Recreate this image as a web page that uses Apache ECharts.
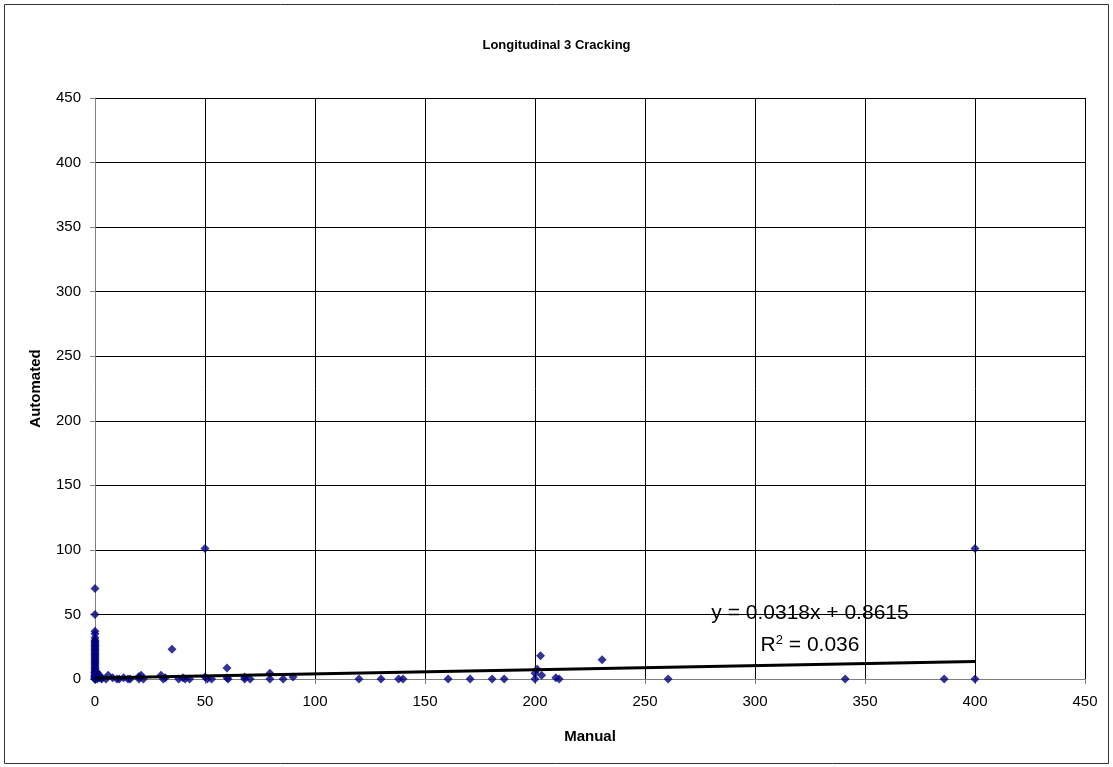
<!DOCTYPE html>
<html>
<head>
<meta charset="utf-8">
<script src="https://cdn.jsdelivr.net/npm/echarts@6/dist/echarts.min.js"></script>
<style>
  html, body { margin: 0; padding: 0; background: #fff; }
  #main { width: 1113px; height: 767px; }
</style>
</head>
<body>
<div id="main"></div>
<script>
// manual vs automated longitudinal crack readings
var manualX = [
    0, 0, 0, 0, 0, 0, 0, 0, 0, 0, 0, 0, 0, 0, 0, 0, 0, 0, 0, 0, 0, 0, 0,
    0, 0, 0, 0, 0, 0, 0, 0, 0, 0, 0, 0, 0, 0, 0, 0, 0, 0, 0,
    1, 1, 1, 2, 2, 3, 3, 5, 6, 8, 10, 11, 13, 15, 16, 20, 20, 21, 22,
    30, 31, 32, 35, 38, 40, 41, 43, 50, 50, 51, 53, 60, 60, 60.5,
    68, 68, 70.5, 79.5, 79.5, 85.5, 90,
    120, 130, 138, 140, 160.5, 170.5, 180.5, 186,
    200, 200, 201, 202.5, 203, 209.5, 211, 230.5, 260.5, 341, 386, 400, 400
];
var automatedY = [
    0, 0, 0, 1, 1, 2, 2, 3, 3, 4, 5, 5, 6, 7, 8, 9, 10, 11, 12, 13, 14, 15, 16,
    17, 18, 19, 20, 21, 22, 23, 24, 25, 26, 27, 28, 29, 30, 32, 35, 37, 50, 70,
    0, 2, 5, 1, 3, 0, 1, 0, 3, 1, 0, 0, 1, 0, 0, 2, 0, 3, 0,
    3, 0, 1, 23, 0, 1, 0, 0, 101, 1.5, 0, 0, 8.5, 1, 0,
    0, 1.5, 0, 4.5, 0, 0, 1.5,
    0, 0, 0, 0, 0, 0, 0, 0,
    0, 4.5, 7.5, 18, 3, 1, 0, 15, 0, 0, 0, 101, 0
];
var slope = 0.0318;
var intercept = 0.8615;
var xTicks = [0, 450, 50];
var yTicks = [0, 450, 50];

var points = manualX.map(function (x, i) { return [x, automatedY[i]]; });
var trend = [[0, intercept], [400, slope * 400 + intercept]];

var myChart = echarts.init(document.getElementById('main'));
var option = {
    backgroundColor: '#fff',
    animation: false,
    title: {
        text: 'Longitudinal 3 Cracking',
        left: 'center',
        top: 34,
        textStyle: { fontFamily: 'Liberation Sans', fontSize: 13, fontWeight: 'bold', color: '#000' }
    },
    grid: { left: 95, right: 28, top: 98, bottom: 88 },
    xAxis: {
        type: 'value',
        min: xTicks[0], max: xTicks[1], interval: xTicks[2],
        name: 'Manual',
        nameLocation: 'middle',
        nameGap: 50,
        nameTextStyle: { fontFamily: 'Liberation Sans', fontSize: 15, fontWeight: 'bold', color: '#000' },
        axisLine: { onZero: false, lineStyle: { color: '#808080', width: 1 } },
        axisTick: { show: true, inside: false, length: 5, lineStyle: { color: '#808080' } },
        axisLabel: { fontFamily: 'Liberation Sans', fontSize: 15, color: '#000', margin: 15 },
        splitLine: { show: true, lineStyle: { color: '#000', width: 1 } }
    },
    yAxis: {
        type: 'value',
        min: yTicks[0], max: yTicks[1], interval: yTicks[2],
        name: 'Automated',
        nameLocation: 'middle',
        nameGap: 52,
        nameTextStyle: { fontFamily: 'Liberation Sans', fontSize: 15, fontWeight: 'bold', color: '#000' },
        axisLine: { show: true, onZero: false, lineStyle: { color: '#808080', width: 1 } },
        axisTick: { show: true, inside: false, length: 5, lineStyle: { color: '#808080' } },
        axisLabel: { fontFamily: 'Liberation Sans', fontSize: 15, color: '#000', margin: 14 },
        splitLine: { show: true, lineStyle: { color: '#000', width: 1 } }
    },
    graphic: [
        {
            type: 'rect',
            shape: { x: 4.5, y: 4.5, width: 1104, height: 759 },
            style: { fill: 'none', stroke: '#333', lineWidth: 1 },
            silent: true
        },
        {
            type: 'text',
            x: 810, y: 613,
            style: {
                text: 'y = 0.0318x + 0.8615',
                font: '21px "Liberation Sans"',
                fill: '#000',
                textAlign: 'center',
                textVerticalAlign: 'middle'
            },
            z: 100
        },
        {
            type: 'text',
            x: 810, y: 645,
            style: {
                text: 'R{sup|2} = 0.036',
                font: '21px "Liberation Sans"',
                fill: '#000',
                textAlign: 'center',
                textVerticalAlign: 'middle',
                rich: { sup: { fontSize: 13, fontFamily: 'Liberation Sans', verticalAlign: 'top', padding: [0, 0, 10, 0] } }
            },
            z: 100
        }
    ],
    series: [
        {
            type: 'scatter',
            data: points,
            symbol: 'diamond',
            symbolSize: 9,
            itemStyle: { color: '#000080' },
            z: 3
        },
        {
            type: 'line',
            data: trend,
            symbol: 'none',
            lineStyle: { color: '#000', width: 3 },
            z: 4
        }
    ]
};
myChart.setOption(option, true);
</script>
</body>
</html>
